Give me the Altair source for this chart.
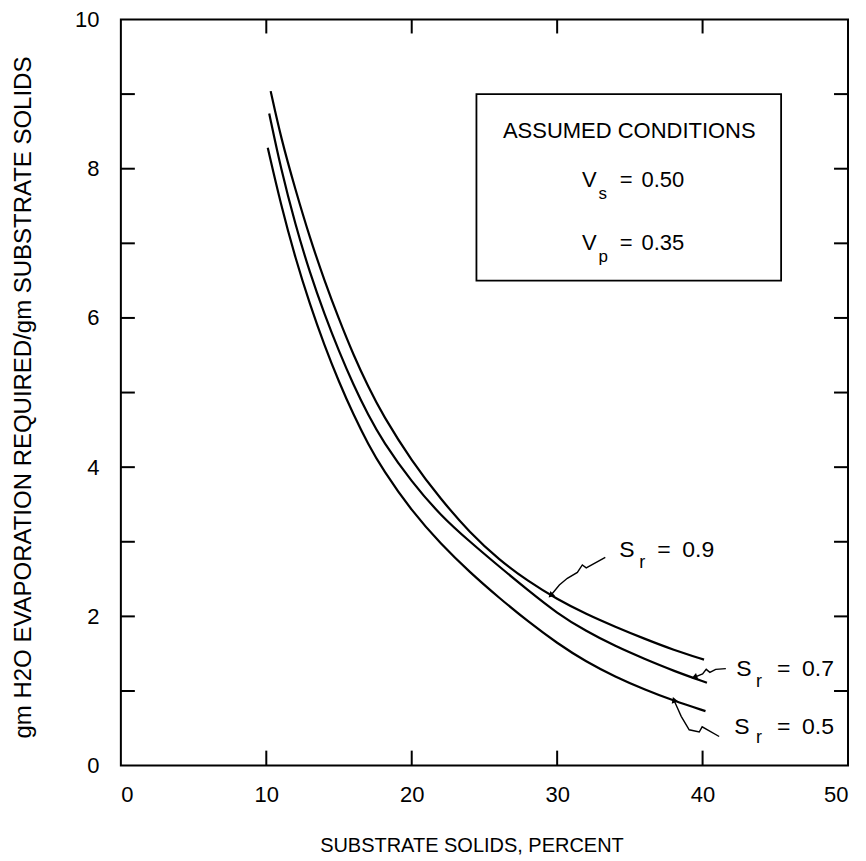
import altair as alt
import pandas as pd

# ---------------- data ----------------
X_05 = [10.1, 11, 12, 13, 14, 15, 16, 17, 18, 20, 22, 24, 26, 28, 30, 32, 34, 36, 38, 40.2]
Y_05 = [8.28, 7.52, 6.8, 6.18, 5.63, 5.14, 4.70, 4.31, 3.97, 3.41, 2.97, 2.59, 2.25, 1.93, 1.64, 1.39, 1.19, 1.02, 0.87, 0.73]
X_07 = [10.2, 11, 12, 13, 14, 15, 16, 17, 18, 20, 22, 24, 26, 28, 30, 32, 34, 36, 38, 40.3]
Y_07 = [8.74, 8.0, 7.25, 6.6, 6.05, 5.55, 5.1, 4.7, 4.35, 3.8, 3.35, 3.0, 2.67, 2.35, 2.04, 1.8, 1.6, 1.43, 1.27, 1.11]
X_09 = [10.3, 11, 12, 13, 14, 15, 16, 17, 18, 20, 22, 24, 26, 28, 30, 32, 34, 36, 38, 40.1]
Y_09 = [9.04, 8.42, 7.72, 7.07, 6.5, 5.98, 5.5, 5.08, 4.7, 4.08, 3.57, 3.12, 2.76, 2.47, 2.23, 2.03, 1.86, 1.70, 1.55, 1.42]

X_LABELS = [0, 10, 20, 30, 40, 50]
Y_LABELS = [0, 2, 4, 6, 8, 10]
X_TICKS = [10, 20, 30, 40]
Y_TICKS = [1, 2, 3, 4, 5, 6, 7, 8, 9]

X_TITLE = "SUBSTRATE SOLIDS, PERCENT"
Y_TITLE = "gm H2O EVAPORATION REQUIRED/gm SUBSTRATE SOLIDS"

# annotation arrows (data units)
ARROW_09_X = [33.31, 32.0, 31.73, 31.39, 30.7, 30.15, 29.6]
ARROW_09_Y = [2.79, 2.65, 2.69, 2.59, 2.51, 2.42, 2.29]
ARROW_07_X = [41.6, 40.9, 40.5, 40.25, 40.0, 39.5]
ARROW_07_Y = [1.30, 1.29, 1.25, 1.29, 1.23, 1.19]
ARROW_05_X = [41.14, 39.97, 39.77, 39.08, 38.53, 38.05]
ARROW_05_Y = [0.39, 0.52, 0.45, 0.48, 0.66, 0.87]
ARROW_TIP_ANGLE = [225, 250, 340]

# boxed legend
BOX = dict(x=24.45, x2=45.4, y=6.5, y2=9.0)
BOX_TITLE = "ASSUMED CONDITIONS"

# main texts (left aligned): label, x, y, font size
TEXT_LABEL = ["V", "s", "=", "0.50", "V", "p", "=", "0.35",
              "S", "r", "=", "0.9",
              "S", "r", "=", "0.7",
              "S", "r", "=", "0.5"]
TEXT_X = [31.7, 32.85, 34.3, 35.8, 31.7, 32.85, 34.3, 35.8,
          34.27, 35.65, 36.88, 38.6,
          42.31, 43.68, 45.12, 46.84,
          42.17, 43.68, 45.12, 46.84]
TEXT_Y = [7.85, 7.66, 7.85, 7.85, 7.0, 6.81, 7.0, 7.0,
          2.89, 2.71, 2.89, 2.89,
          1.29, 1.12, 1.29, 1.29,
          0.515, 0.37, 0.515, 0.515]
TEXT_SIZE = [22, 17, 22, 22, 22, 17, 22, 22,
             23, 18, 23, 23,
             23, 18, 23, 23,
             23, 18, 23, 23]

FONT = "Liberation Sans"
W, H = 728, 747

# ---------------- build tables ----------------
rows = []
for name, xs, ys in [("0.5", X_05, Y_05), ("0.7", X_07, Y_07), ("0.9", X_09, Y_09)]:
    for i, (x, y) in enumerate(zip(xs, ys)):
        rows.append({"sr": name, "x": x, "y": y, "o": i})
curves = pd.DataFrame(rows)

arows = []
for name, xs, ys in [("0.9", ARROW_09_X, ARROW_09_Y), ("0.7", ARROW_07_X, ARROW_07_Y), ("0.5", ARROW_05_X, ARROW_05_Y)]:
    for i, (x, y) in enumerate(zip(xs, ys)):
        arows.append({"a": name, "x": x, "y": y, "o": i})
arrows = pd.DataFrame(arows)
tips = pd.DataFrame({
    "x": [ARROW_09_X[-1], ARROW_07_X[-1], ARROW_05_X[-1]],
    "y": [ARROW_09_Y[-1], ARROW_07_Y[-1], ARROW_05_Y[-1]],
    "ang": ARROW_TIP_ANGLE,
})

texts = pd.DataFrame({"label": TEXT_LABEL, "x": TEXT_X, "y": TEXT_Y, "fs": TEXT_SIZE})

xs_ = alt.Scale(domain=[0, 50], nice=False, zero=False)
ys_ = alt.Scale(domain=[0, 10], nice=False, zero=False)

x_axis = alt.Axis(values=X_LABELS, format="d", ticks=False, domain=False, grid=False,
                  labelFont=FONT, labelFontSize=22, labelColor="black", labelPadding=19,
                  title=X_TITLE, titleFont=FONT, titleFontSize=20, titleFontWeight="normal",
                  titleColor="black", titleX=351, titleY=86, titleBaseline="alphabetic",
                  titleAlign="center")
y_axis = alt.Axis(values=Y_LABELS, format="d", ticks=False, domain=False, grid=False,
                  labelFont=FONT, labelFontSize=22, labelColor="black", labelPadding=22,
                  title=Y_TITLE, titleFont=FONT, titleFontSize=24, titleFontWeight="normal",
                  titleColor="black", titleX=-90, titleY=378, titleBaseline="alphabetic",
                  titleAlign="center", titleAngle=270)


def X(field):
    return alt.X(field, scale=xs_, axis=x_axis, title=X_TITLE)


def Y(field):
    return alt.Y(field, scale=ys_, axis=y_axis, title=Y_TITLE)


lines = alt.Chart(curves).mark_line(color="black", strokeWidth=2.2, interpolate="basis").encode(
    x=X("x:Q"), y=Y("y:Q"), detail="sr:N", order="o:Q",
)

xt = pd.DataFrame({"t": X_TICKS})
yt = pd.DataFrame({"t": Y_TICKS})
bottom_ticks = alt.Chart(xt).mark_rule(color="black", strokeWidth=2).encode(
    x=X("t:Q"), y=alt.value(H), y2=alt.value(H - 15))
top_ticks = alt.Chart(xt).mark_rule(color="black", strokeWidth=2).encode(
    x=X("t:Q"), y=alt.value(0), y2=alt.value(14))
left_ticks = alt.Chart(yt).mark_rule(color="black", strokeWidth=2).encode(
    y=Y("t:Q"), x=alt.value(0), x2=alt.value(14))
right_ticks = alt.Chart(yt).mark_rule(color="black", strokeWidth=2).encode(
    y=Y("t:Q"), x=alt.value(W), x2=alt.value(W - 14))

box = alt.Chart(pd.DataFrame([BOX])).mark_rect(fillOpacity=0, stroke="black", strokeWidth=1.8).encode(
    x=X("x:Q"), x2="x2:Q", y=Y("y:Q"), y2="y2:Q")

box_title = alt.Chart(pd.DataFrame({"label": [BOX_TITLE], "x": [34.96], "y": [8.5]})).mark_text(
    font=FONT, fontSize=22, align="center", baseline="middle", color="black").encode(
    x=X("x:Q"), y=Y("y:Q"), text="label:N")

labels = alt.Chart(texts).mark_text(font=FONT, align="left", baseline="middle", color="black").encode(
    x=X("x:Q"), y=Y("y:Q"), text="label:N", size=alt.Size("fs:Q", scale=None, legend=None))

arrow_lines = alt.Chart(arrows).mark_line(color="black", strokeWidth=1.4).encode(
    x=X("x:Q"), y=Y("y:Q"), detail="a:N", order="o:Q")
arrow_tips = alt.Chart(tips).mark_point(shape="triangle", filled=True, color="black", size=45, opacity=1).encode(
    x=X("x:Q"), y=Y("y:Q"), angle=alt.Angle("ang:Q", scale=None))

chart = alt.layer(
    lines, bottom_ticks, top_ticks, left_ticks, right_ticks, box, box_title, labels, arrow_lines, arrow_tips
).properties(
    width=W, height=H,
    background="white",
    autosize=alt.AutoSizeParams(type="none"),
    padding={"left": 113, "top": 11, "right": 10, "bottom": 95},
).configure_view(stroke="black", strokeWidth=2)

chart.save("out.html", embed_options={"renderer": "svg", "actions": False})
